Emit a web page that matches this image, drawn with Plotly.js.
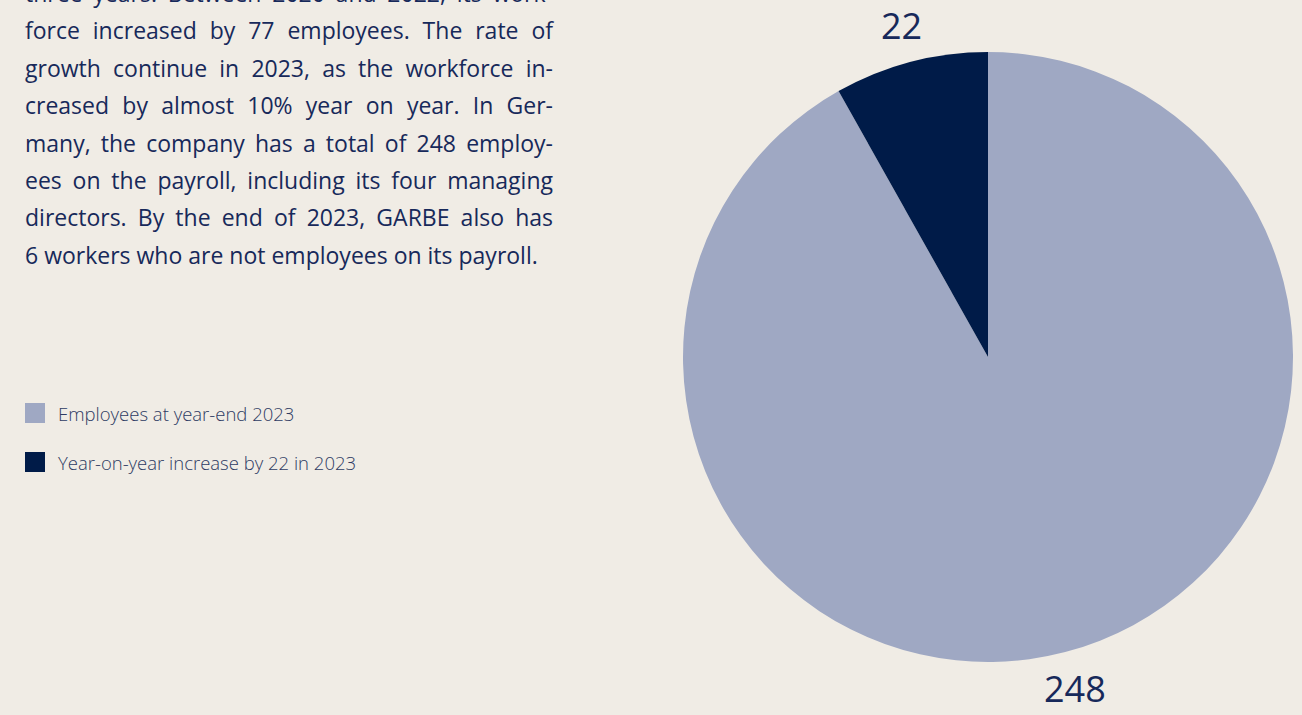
<!DOCTYPE html>
<html>
<head>
<meta charset="utf-8">
<script src="https://cdn.plot.ly/plotly-3.0.1.min.js"></script>
<style>
  html, body { margin: 0; padding: 0; background: #f0ece5; }
  #chart { width: 1302px; height: 715px; }
</style>
</head>
<body>
<div id="chart"></div>
<script>
// ---- data ----
const categories = ['Employees at year-end 2023', 'Year-on-year increase by 22 in 2023'];
const values = [248, 22];
const colors = ['#9fa8c3', '#001b48'];
const paragraphLines = [
  'three years. Between 2020 and 2022, its work-',
  'force increased by 77 employees. The rate of',
  'growth continue in 2023, as the workforce in-',
  'creased by almost 10% year on year. In Ger-',
  'many, the company has a total of 248 employ-',
  'ees on the payroll, including its four managing',
  'directors. By the end of 2023, GARBE also has',
  '6 workers who are not employees on its payroll.'
];

const W = 1302, H = 715;
const textColor = '#17295a';

const annotations = [];
const shapes = [];

// paragraph lines (y centers in px)
const lineY0 = -7, lineStep = 37.4;
paragraphLines.forEach((t, i) => {
  annotations.push({
    text: t, xref: 'paper', yref: 'paper',
    x: 23 / W, y: 1 - (lineY0 + i * lineStep) / H,
    xanchor: 'left', yanchor: 'middle', align: 'left', showarrow: false,
    font: { family: 'Open Sans', size: 23, color: textColor }
  });
});

// custom legend
const legY = [413, 462];
categories.forEach((c, i) => {
  shapes.push({
    type: 'rect', xref: 'paper', yref: 'paper',
    x0: 25 / W, x1: 45 / W,
    y0: 1 - (legY[i] - 10) / H, y1: 1 - (legY[i] + 10) / H,
    fillcolor: colors[i], line: { width: 0 }
  });
  annotations.push({
    text: c, xref: 'paper', yref: 'paper',
    x: 56 / W, y: 1 - legY[i] / H,
    xanchor: 'left', yanchor: 'middle', showarrow: false,
    font: { family: 'Open Sans', size: 18.5, color: '#2e3b63', weight: 300 }
  });
});

// pie geometry: center (988,357), radius 305
const cx = 988, cy = 357, r = 305, labelR = 343;

// value labels placed outside each slice at its mid-angle (clockwise from 12 o'clock)
const total = values.reduce((a, b) => a + b, 0);
let cum = 0;
values.forEach((v, i) => {
  const mid = (cum + v / 2) / total * 2 * Math.PI;
  cum += v;
  annotations.push({
    text: String(v), xref: 'paper', yref: 'paper',
    x: (cx + labelR * Math.sin(mid)) / W,
    y: 1 - (cy - labelR * Math.cos(mid)) / H,
    xanchor: 'center', yanchor: 'middle', showarrow: false,
    font: { family: 'Open Sans', size: 36, color: textColor }
  });
});

const trace = {
  type: 'pie',
  labels: categories,
  values: values,
  marker: { colors: colors, line: { width: 0 } },
  sort: false,
  direction: 'clockwise',
  rotation: 0,
  textinfo: 'none',
  hole: 0,
  showlegend: false,
  domain: {
    x: [(cx - r) / W, (cx + r) / W],
    y: [1 - (cy + r) / H, 1 - (cy - r) / H]
  },
  automargin: false
};

const layout = {
  width: W, height: H,
  margin: { l: 0, r: 0, t: 0, b: 0 },
  paper_bgcolor: '#f0ece5',
  plot_bgcolor: '#f0ece5',
  showlegend: false,
  annotations: annotations,
  shapes: shapes
};

Plotly.newPlot('chart', [trace], layout, { displayModeBar: false, staticPlot: true }).then(() => {
  // justify paragraph lines (all but last) to a common right edge
  const target = 553 - 25;
  const els = document.querySelectorAll('#chart .annotation-text');
  els.forEach(el => {
    const txt = el.textContent;
    const idx = paragraphLines.indexOf(txt);
    if (idx < 0 || idx === paragraphLines.length - 1) return;
    const len = el.getComputedTextLength();
    const spaces = (txt.match(/ /g) || []).length;
    if (spaces > 0) {
      el.style.wordSpacing = ((target - len) / spaces) + 'px';
    }
  });
});
</script>
</body>
</html>
